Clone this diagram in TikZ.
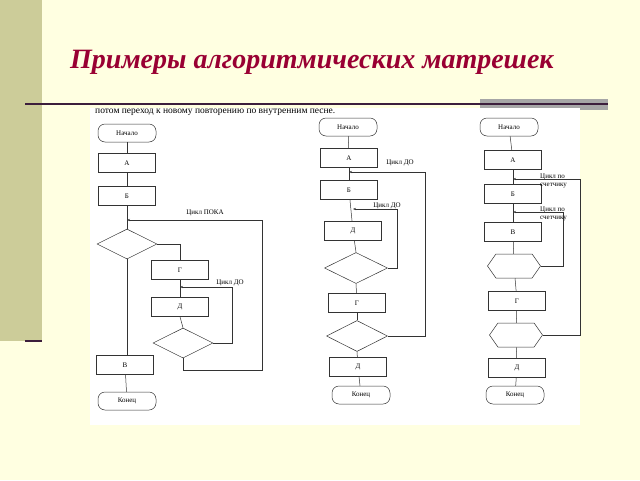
\documentclass[tikz,border=0pt]{standalone}
\usepackage{fontspec}
\setmainfont{Liberation Serif}
\usetikzlibrary{shapes.symbols,shapes.geometric,arrows.meta}
\definecolor{bg}{HTML}{FFFFE1}
\definecolor{barc}{HTML}{CCCC99}
\definecolor{ttl}{HTML}{990033}
\definecolor{lnc}{HTML}{3C1E3C}
\begin{document}
\begin{tikzpicture}[x=1pt,y=-1pt,
 ln/.style={draw=black!80,line width=0.5pt},
 term/.style={ln,rounded corners=7pt,minimum width=58pt,minimum height=18pt,inner sep=0pt,font=\fontsize{7}{7}\selectfont},
 blk/.style={ln,minimum width=57pt,minimum height=19pt,inner sep=0pt,font=\fontsize{7}{7}\selectfont},
 dia/.style={ln,diamond,aspect=2,minimum width=60pt,minimum height=30pt,inner sep=0pt},
 hex/.style={ln,signal,signal to=east and west,signal pointer angle=110,minimum width=53pt,minimum height=24pt,inner sep=0pt},
 lab/.style={font=\fontsize{7}{7.5}\selectfont,inner sep=0pt,align=left},
 ar/.style={ln,-{Stealth[length=3pt]}}]
\useasboundingbox (0,0) rectangle (640,480);
\fill[bg] (0,0) rectangle (640,480);
\fill[barc] (0,0) rectangle (42,341);
\fill[black!35] (480,99) rectangle (608,110);
\draw[lnc,line width=1.5pt] (25,104) -- (608,104);
\draw[lnc,line width=1.5pt] (25,341) -- (42,341);
\node[font=\bfseries\itshape\fontsize{28}{30}\selectfont,text=ttl,anchor=west,inner sep=0pt] (title) at (70,62) {Примеры алгоритмических матрешек};
\fill[white] (90,108) rectangle (580,425);
\node[lab,anchor=west,font=\fontsize{9.5}{10}\selectfont] (top) at (95,112) {потом переход к новому повторению по внутренним песне.};
% chart 1
\node[term] (s1) at (127,133) {Начало};
\node[blk] (a1) at (127,163) {А};
\node[blk] (b1) at (127,196) {Б};
\coordinate (m1) at (127,220);
\node[dia] (d1) at (127,244) {};
\node[blk] (g1) at (180,270) {Г};
\coordinate (m2) at (180,287);
\node[blk] (e1) at (180,307) {Д};
\node[dia] (d2) at (183,343) {};
\node[blk] (v1) at (125,365) {В};
\node[term] (k1) at (127,401) {Конец};
\node[lab] (l1) at (205,213) {Цикл ПОКА};
\node[lab] (l2) at (230,283) {Цикл ДО};
\draw[ln] (s1)--(a1); \draw[ln] (a1)--(b1); \draw[ln] (b1)--(d1.north);
\draw[ln] (d1.east) -| (g1.north);
\draw[ln] (g1)--(e1); \draw[ln] (e1.south)--(d2.north);
\draw[ar] (d2.east) -- (232,343) |- (m2);
\draw[ar] (d2.south) -- (183,370) -| (262,220) -- (m1);
\draw[ln] (d1.south) -- (v1.north-|d1.south);
\draw[ln] (v1)--(k1);
% chart 2
\node[term] (s2) at (348,127) {Начало};
\node[blk] (a2) at (349,158) {А};
\coordinate (n1) at (349,172);
\node[blk] (b2) at (349,190) {Б};
\coordinate (n2) at (353,209);
\node[blk] (e2) at (353,231) {Д};
\node[dia] (d3) at (356,268) [minimum width=63pt,minimum height=31pt] {};
\node[blk] (g2) at (357,303) {Г};
\node[dia] (d4) at (357,336) [minimum width=61pt,minimum height=31pt] {};
\node[blk] (e3) at (358,367) {Д};
\node[term] (k2) at (361,395) {Конец};
\node[lab] (l3) at (400,163) {Цикл ДО};
\node[lab] (l4) at (387,206) {Цикл ДО};
\draw[ln] (s2)--(a2); \draw[ln] (a2)--(b2); \draw[ln] (b2)--(e2); \draw[ln] (e2)--(d3.north);
\draw[ln] (d3.south)--(g2); \draw[ln] (g2)--(d4.north); \draw[ln] (d4.south)--(e3); \draw[ln] (e3)--(k2);
\draw[ar] (d3.east) -- (397,268) |- (n2);
\draw[ar] (d4.east) -- (425,336) |- (n1);
% chart 3
\node[term] (s3) at (509,127) {Начало};
\node[blk] (a3) at (513,160) {А};
\coordinate (p1) at (513,179);
\node[blk] (b3) at (513,194) {Б};
\coordinate (p2) at (513,212);
\node[blk] (v3) at (513,232) {В};
\node[hex] (h1) at (514,266) {};
\node[blk] (g3) at (517,301) {Г};
\node[hex] (h2) at (516,335) {};
\node[blk] (e4) at (517,368) {Д};
\node[term] (k3) at (515,395) {Конец};
\node[lab,anchor=west] (l5) at (540,181) {Цикл по\\счетчику};
\node[lab,anchor=west] (l6) at (540,214) {Цикл по\\счетчику};
\draw[ln] (s3)--(a3); \draw[ln] (a3)--(b3); \draw[ln] (b3)--(v3); \draw[ln] (v3)--(h1);
\draw[ln] (h1)--(g3); \draw[ln] (g3)--(h2); \draw[ln] (h2)--(e4); \draw[ln] (e4)--(k3);
\draw[ar] (h1.east) -- (563,266) |- (p2);
\draw[ar] (h2.east) -- (580,335) |- (p1);
\end{tikzpicture}
\end{document}
